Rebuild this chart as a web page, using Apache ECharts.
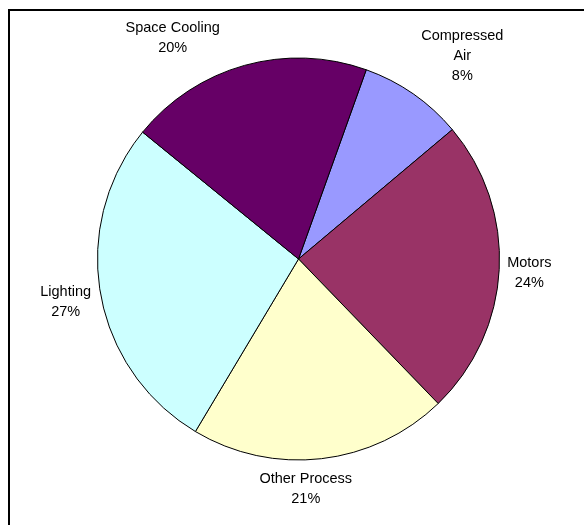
<!DOCTYPE html>
<html lang="en">
<head>
    <meta charset="utf-8" />
    <title>Energy use by end use</title>
    <script type="text/javascript" src="https://cdn.jsdelivr.net/npm/echarts@6/dist/echarts.min.js"></script>
    <style type="text/css">
        html, body { margin: 0; padding: 0; background: #fff; }
    </style>
</head>
<body>
    <div id="main" style="width:584px;height:525px;"></div>

    <script type="text/javascript">
        // slices, clockwise from the first one
        var categories = ['Compressed Air', 'Motors', 'Other Process', 'Lighting', 'Space Cooling'];
        var shares = [8.4, 23.9, 20.8, 27.3, 19.6];
        var sliceColors = ['#9999FF', '#993366', '#FFFFCC', '#CCFFFF', '#660066'];

        var cx = 298.5, cy = 259, radius = 201;
        var firstAngle = 19.7;   // degrees clockwise from 12 o'clock
        var labelGap = 8;
        // nudges to mimic the spreadsheet "best fit" label placement
        var labelShift = [[21, -7], [0, 2], [-22, 3], [-2, 3], [-57, 0]];

        var total = 0;
        for (var k = 0; k < shares.length; k++) total += shares[k];

        var pieData = [];
        for (var i = 0; i < categories.length; i++) {
            pieData.push({ name: categories[i], value: shares[i], itemStyle: { color: sliceColors[i] } });
        }

        var myChart = echarts.init(document.getElementById('main'));

        var option = {
            animation: false,
            backgroundColor: '#fff',
            graphic: [{
                type: 'rect',
                shape: { x: 9, y: 10, width: 700, height: 700 },
                style: { fill: 'none', stroke: '#000', lineWidth: 2 },
                silent: true
            }],
            series: [{
                type: 'pie',
                center: [cx, cy],
                radius: radius,
                startAngle: 90 - firstAngle,
                clockwise: true,
                avoidLabelOverlap: false,
                itemStyle: { borderColor: '#000', borderWidth: 1 },
                emphasis: { disabled: true },
                label: {
                    show: true,
                    position: 'outside',
                    color: '#000',
                    fontFamily: 'Liberation Sans, Arial',
                    fontSize: 14.5,
                    lineHeight: 20,
                    align: 'center',
                    formatter: function (p) {
                        var n = p.name.length > 13 ? p.name.replace(' ', '\n') : p.name;
                        return n + '\n' + Math.round(p.value / total * 100) + '%';
                    }
                },
                labelLine: { show: false },
                labelLayout: function (p) {
                    var idx = p.dataIndex;
                    var before = 0;
                    for (var j = 0; j < idx; j++) before += shares[j];
                    var mid = (firstAngle + (before + shares[idx] / 2) / total * 360) * Math.PI / 180;
                    var s = Math.sin(mid), c = Math.cos(mid);
                    var w = p.labelRect.width, h = p.labelRect.height;
                    return {
                        x: cx + (radius + labelGap) * s + w / 2 * s + labelShift[idx][0],
                        y: cy - (radius + labelGap) * c - h / 2 * c + labelShift[idx][1],
                        align: 'center',
                        verticalAlign: 'middle'
                    };
                },
                data: pieData
            }]
        };
        myChart.setOption(option);
    </script>
</body>
</html>
